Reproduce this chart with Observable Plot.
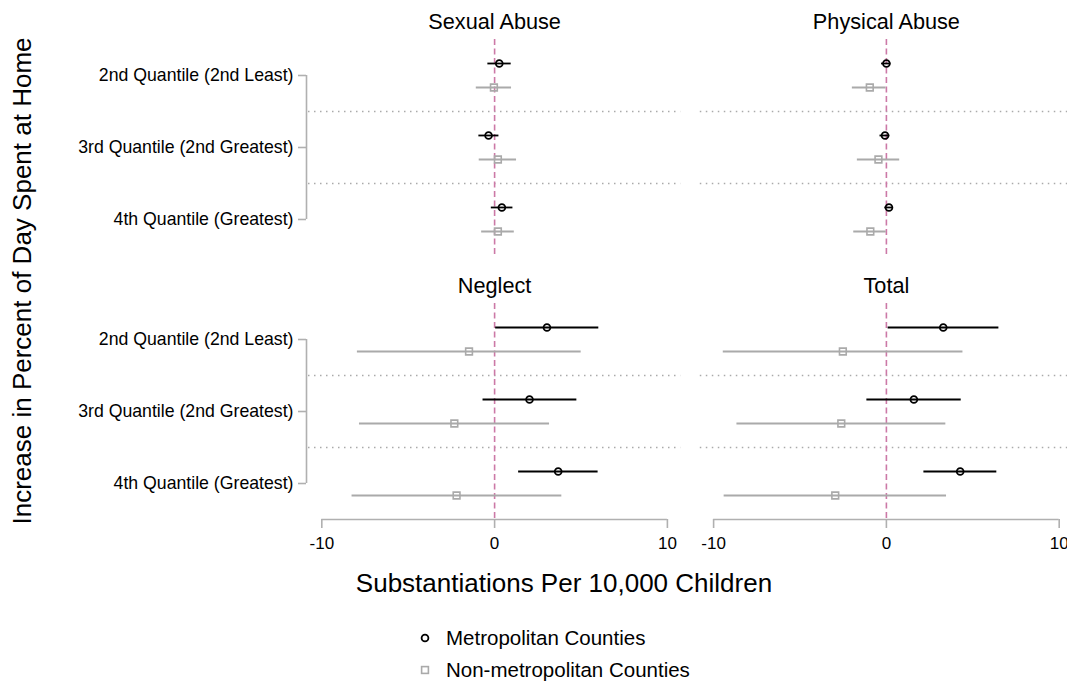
<!DOCTYPE html>
<html>
<head>
<meta charset="utf-8">
<script src="https://cdn.jsdelivr.net/npm/d3@7"></script>
<script src="https://cdn.jsdelivr.net/npm/@observablehq/plot@0.6"></script>
<style>
  html, body { margin: 0; padding: 0; background: #fff; overflow: hidden; }
  body { font-family: "Liberation Sans", Arial, Helvetica, sans-serif; color: #000; }
  #wrap { position: relative; width: 1067px; height: 682px; overflow: hidden; background: #fff; }
  #chart { position: absolute; left: 0; top: 0; width: 1072px; }
  #chart svg { max-width: none !important; width: 1072px; height: 560px !important; }
  .lbl { position: absolute; white-space: nowrap; color: #000; line-height: 1; }
  #xtitle { left: 564px; top: 583px; font-size: 26px; transform: translate(-50%, -50%); }
  #ytitle { left: 22px; top: 281px; font-size: 26px; transform: translate(-50%, -50%) rotate(-90deg); }
  .legtext { font-size: 20.5px; transform: translateY(-50%); }
</style>
</head>
<body>
<div id="wrap">
  <div id="chart"></div>
  <div class="lbl" id="xtitle">Substantiations Per 10,000 Children</div>
  <div class="lbl" id="ytitle">Increase in Percent of Day Spent at Home</div>
  <div id="legend"></div>
</div>
<script>
// ---------------- data ----------------
const panels = ["Sexual Abuse", "Physical Abuse", "Neglect", "Total"];
const quantiles = ["2nd Quantile (2nd Least)", "3rd Quantile (2nd Greatest)", "4th Quantile (Greatest)"];
const groups = ["Metropolitan Counties", "Non-metropolitan Counties"];
const xTicks = [-10, 0, 10];

// [estimate, lower, upper] for each quantile
const sexualMetro      = [[0.27, -0.39, 0.96], [-0.35, -0.91, 0.25], [0.42, -0.19, 1.06]];
const sexualNonmetro   = [[-0.04, -1.06, 0.98], [0.19, -0.89, 1.27], [0.19, -0.75, 1.14]];
const physicalMetro    = [[0.00, -0.28, 0.26], [-0.08, -0.37, 0.20], [0.15, -0.09, 0.38]];
const physicalNonmetro = [[-0.96, -1.97, -0.02], [-0.46, -1.68, 0.77], [-0.93, -1.89, -0.01]];
const neglectMetro     = [[3.03, 0.06, 6.03], [2.02, -0.67, 4.76], [3.68, 1.39, 5.99]];
const neglectNonmetro  = [[-1.48, -7.94, 5.01], [-2.33, -7.82, 3.18], [-2.20, -8.25, 3.89]];
const totalMetro       = [[3.29, 0.10, 6.51], [1.59, -1.13, 4.33], [4.27, 2.17, 6.39]];
const totalNonmetro    = [[-2.52, -9.44, 4.43], [-2.61, -8.65, 3.44], [-2.96, -9.39, 3.48]];

const series = [
  [sexualMetro, sexualNonmetro],
  [physicalMetro, physicalNonmetro],
  [neglectMetro, neglectNonmetro],
  [totalMetro, totalNonmetro]
];

// ---------------- table ----------------
const facetOf = (pi) => ({col: pi % 2, row: pi < 2 ? "top" : "bottom"});
const rows = [];
panels.forEach((panel, pi) => {
  groups.forEach((group, gi) => {
    series[pi][gi].forEach(([est, lo, hi], qi) => {
      rows.push({panel, ...facetOf(pi), group, gi, qi, pos: 1 + 3 * qi + gi, est, lo, hi});
    });
  });
});
const metroRows = rows.filter(d => d.gi === 0);
const nonmetroRows = rows.filter(d => d.gi === 1);
const titleRows = panels.map((panel, pi) => ({panel, ...facetOf(pi)}));
const leftFacets = titleRows.filter(d => d.col === 0);
const bottomFacets = titleRows.filter(d => d.row === "bottom");
const separators = quantiles.slice(1).map((q, i) => 3 * (i + 1));
const labelPos = quantiles.map((q, i) => 1.5 + 3 * i);

const black = "#000000";
const gray = "#aaaaaa";
const axisGray = "#b0b0b0";
const pink = "#cc79a7";
const font = "'Liberation Sans', Arial, Helvetica, sans-serif";
const xDomain = [-10.77, 10.77];
const yDomain = [0, 9];

const chart = Plot.plot({
  width: 1072,
  height: 560,
  marginLeft: 308,
  marginRight: 0,
  marginTop: 39,
  marginBottom: 41,
  style: {fontFamily: font, fontSize: "17px", background: "white", color: "black", overflow: "visible"},
  x: {domain: xDomain},
  y: {domain: yDomain, reverse: true},
  fx: {domain: [0, 1], range: [308, 1072], paddingInner: 0.05, paddingOuter: 0, round: false, axis: null},
  fy: {domain: ["top", "bottom"], range: [39, 519], paddingInner: 0.182, paddingOuter: 0, round: false, axis: null},
  marks: [
    // dotted separators between quantiles
    Plot.ruleY(separators, {stroke: gray, strokeWidth: 1.5, strokeDasharray: "1.5,4.5"}),
    // zero reference
    Plot.ruleX([0], {stroke: pink, strokeWidth: 1.6, strokeDasharray: "6,3.5"}),
    // bracket on the left
    Plot.ruleX(leftFacets, {fx: "col", fy: "row", x: () => xDomain[0], y1: () => labelPos[0], y2: () => labelPos[labelPos.length - 1], dx: -2, stroke: axisGray, strokeWidth: 1.6}),
    Plot.axisY({ticks: labelPos, tickFormat: d => quantiles[Math.round((d - 1.5) / 3)], tickSize: 8, tickPadding: 5, dx: -2,
      stroke: axisGray, strokeWidth: 1.6, fill: "black", fontSize: 17.7, label: null}),
    // x axis line and ticks on bottom row
    Plot.ruleY(bottomFacets, {fx: "col", fy: "row", y: () => yDomain[1], x1: () => xTicks[0], x2: () => xTicks[xTicks.length - 1], stroke: axisGray, strokeWidth: 1.6}),
    Plot.axisX({ticks: xTicks, tickFormat: d => `${d}`, tickSize: 9, tickPadding: 8, stroke: axisGray, strokeWidth: 1.6, fill: "black", fontSize: 17, label: null}),
    // confidence intervals
    Plot.ruleY(nonmetroRows, {fx: "col", fy: "row", y: "pos", x1: "lo", x2: "hi", stroke: gray, strokeWidth: 1.8}),
    Plot.ruleY(metroRows, {fx: "col", fy: "row", y: "pos", x1: "lo", x2: "hi", stroke: black, strokeWidth: 1.8}),
    // point estimates
    Plot.dot(nonmetroRows, {fx: "col", fy: "row", x: "est", y: "pos", symbol: "square", r: 3.8, stroke: gray, strokeWidth: 1.6, fill: "none"}),
    Plot.dot(metroRows, {fx: "col", fy: "row", x: "est", y: "pos", symbol: "circle", r: 3.4, stroke: black, strokeWidth: 1.8, fill: "none"}),
    // panel titles
    Plot.text(titleRows, {fx: "col", fy: "row", text: "panel", frameAnchor: "top", lineAnchor: "middle", dy: -17, fontSize: 21.7, fill: "black"})
  ]
});
document.getElementById("chart").appendChild(chart);

// ---------------- legend ----------------
const legendY = [638, 670];
const legend = d3.select("#legend");
groups.forEach((g, i) => {
  const svg = legend.append("svg")
    .attr("width", 14).attr("height", 14)
    .style("position", "absolute")
    .style("left", (425 - 7) + "px")
    .style("top", (legendY[i] - 7) + "px");
  if (i === 0) {
    svg.append("circle").attr("cx", 7).attr("cy", 7).attr("r", 3.4)
      .attr("fill", "none").attr("stroke", black).attr("stroke-width", 1.8);
  } else {
    svg.append("rect").attr("x", 3.6).attr("y", 3.6).attr("width", 6.8).attr("height", 6.8)
      .attr("fill", "none").attr("stroke", gray).attr("stroke-width", 1.6);
  }
  legend.append("div").attr("class", "lbl legtext")
    .style("left", "446px").style("top", legendY[i] + "px")
    .text(g);
});
</script>
</body>
</html>
